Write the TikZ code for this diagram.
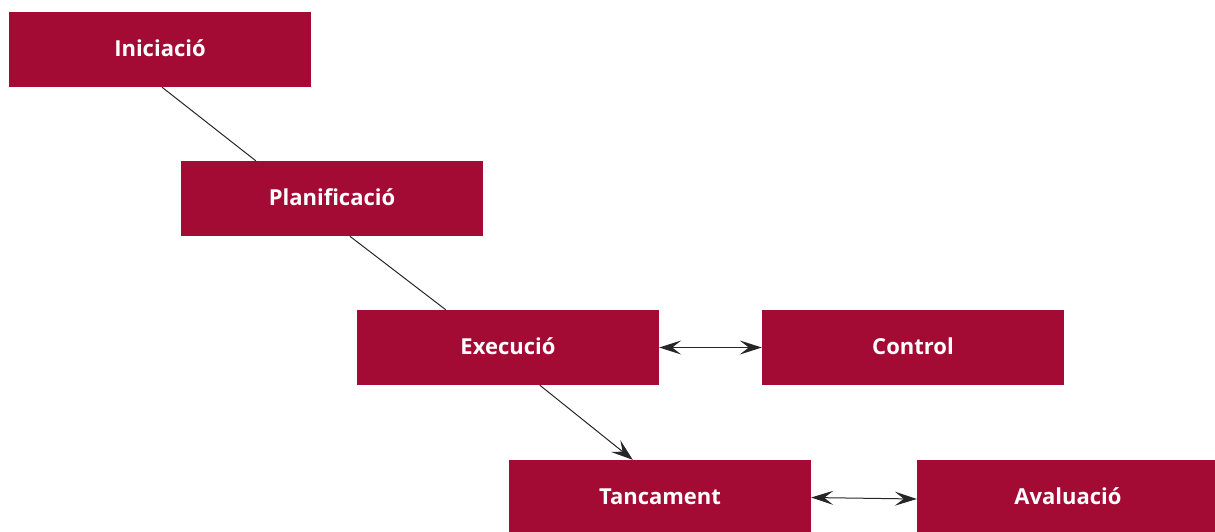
\documentclass[tikz,border=0pt]{standalone}
\usepackage{fontspec}
\setmainfont{Open Sans}
\usetikzlibrary{arrows.meta}
\definecolor{granat}{HTML}{A30B35}
\tikzset{
  fase/.style={fill=granat, text=white, font=\bfseries\fontsize{22}{24}\selectfont,
    minimum width=302pt, minimum height=75pt, inner sep=0pt, text depth=2pt},
  enllac/.style={draw=black!85, line width=1pt},
  fletxa/.style={enllac, -{Stealth[length=22pt,width=15pt,inset=9pt]}},
  dobleFletxa/.style={enllac, {Stealth[length=22pt,width=14pt,inset=9pt]}-{Stealth[length=22pt,width=14pt,inset=9pt]}}
}
\begin{document}
\begin{tikzpicture}[x=1pt,y=-1pt]
      \useasboundingbox (0,0) rectangle (1215,531);
      \clip (0,0) rectangle (1215,531);
      \draw
        (160,49.5) node[fase] (ini){Iniciació}
        (332,198.5) node[fase] (plan){Planificació}
        (508,347.5) node[fase] (exe){Execució}
        (913,347.5) node[fase] (ctrl){Control}
        (660,497.5) node[fase] (tanc){Tancament}
        (1068,497.5) node[fase] (aval){Avaluació};
      \begin{scope}
        \draw[enllac] ([xshift=2pt]ini.south) to ([xshift=75pt]plan.north west);
        \draw[enllac] ([xshift=169pt]plan.south west) to ([xshift=89pt]exe.north west);
        \draw[fletxa] ([xshift=183pt]exe.south west) to ([xshift=124pt]tanc.north west);
        \draw[dobleFletxa] (exe.east) to (ctrl.west);
        \draw[dobleFletxa] (tanc.east) to ([yshift=-1.5pt]aval.west);
      \end{scope}
    \end{tikzpicture}
\end{document}
